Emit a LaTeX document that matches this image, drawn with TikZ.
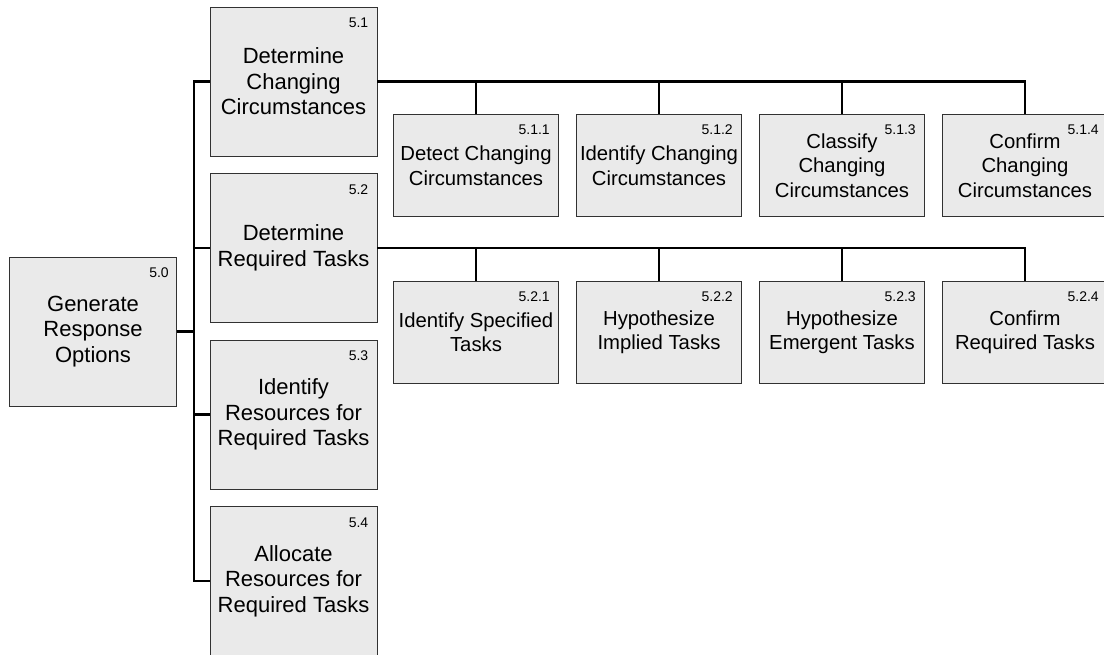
\documentclass[tikz,border=0pt]{standalone}
\usepackage{fontspec}
\setmainfont{Liberation Sans}
\usetikzlibrary{calc}
\definecolor{boxgray}{RGB}{234,234,234}
\definecolor{edgegray}{RGB}{50,50,50}
\begin{document}
\begin{tikzpicture}[x=1pt,y=-1pt,
  box/.style={draw=edgegray, fill=boxgray, line width=0.9pt, align=center,
    inner sep=0pt},
  topbox/.style={box, minimum width=167, minimum height=149,
    font=\fontsize{22}{25.5}\selectfont},
  subbox/.style={box, minimum width=165, minimum height=102,
    font=\fontsize{20.3}{24.5}\selectfont},
  num/.style={font=\fontsize{14}{15}\selectfont, inner sep=0pt, anchor=east},
  bus/.style={line width=2.2pt},
  stem/.style={line width=1.4pt},
]
\useasboundingbox (0,0) rectangle (1104,654);

% root
\node[topbox] (n50) at (93,331.5) {Generate\\Response\\Options};
\node[num] at ($(n50.north east)+(-8,16)$) {5.0};

% first level
\node[topbox] (n51) at (293.5,81.5) {Determine\\Changing\\Circumstances};
\node[topbox] (n52) at (293.5,248) {Determine\\Required Tasks};
\node[topbox] (n53) at (293.5,414.5) {Identify\\Resources for\\Required Tasks};
\node[topbox] (n54) at (293.5,581) {Allocate\\Resources for\\Required Tasks};
\foreach \n/\t in {n51/5.1, n52/5.2, n53/5.3, n54/5.4}
  \node[num] at ($(\n.north east)+(-9,16.5)$) {\t};

% second level under 5.1
\node[subbox] (n511) at (476,165.5) {Detect Changing\\Circumstances};
\node[subbox] (n512) at (659,165.5) {Identify Changing\\Circumstances};
\node[subbox] (n513) at (842,165.5) {Classify\\Changing\\Circumstances};
\node[subbox] (n514) at (1025,165.5) {Confirm\\Changing\\Circumstances};

% second level under 5.2
\node[subbox] (n521) at (476,332) {Identify Specified\\Tasks};
\node[subbox] (n522) at (659,332) {Hypothesize\\Implied Tasks};
\node[subbox] (n523) at (842,332) {Hypothesize\\Emergent Tasks};
\node[subbox] (n524) at (1025,332) {Confirm\\Required Tasks};

\foreach \n/\t in {n511/5.1.1, n512/5.1.2, n513/5.1.3, n514/5.1.4,
                   n521/5.2.1, n522/5.2.2, n523/5.2.3, n524/5.2.4}
  \node[num] at ($(\n.north east)+(-9,16)$) {\t};

% root to first level
\foreach \n in {n51,n52,n53,n54}
  \draw[bus] (n50.east) -- ++(17,0) |- (\n.west);

% first level to second level
\draw[bus] (n51.east) -| (n514.north);
\foreach \n in {n511,n512,n513}
  \draw[stem] (\n.north) -- (\n.north |- n51.east);
\draw[bus] (n52.east) -| (n524.north);
\foreach \n in {n521,n522,n523}
  \draw[stem] (\n.north) -- (\n.north |- n52.east);
\end{tikzpicture}
\end{document}
